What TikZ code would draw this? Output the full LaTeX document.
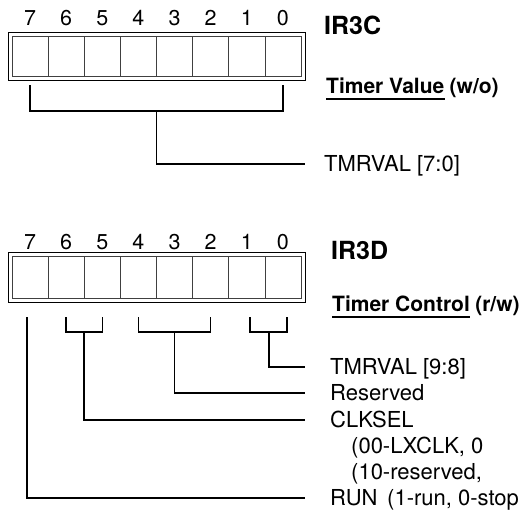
\documentclass[tikz,border=0pt]{standalone}
\usepackage{fontspec}
\setmainfont{TeX Gyre Heros}
\usetikzlibrary{positioning, calc}

\tikzset{
  bitcell/.style={draw=black!75, line width=0.6pt, minimum width=36.125pt, minimum height=40pt, inner sep=0pt, outer sep=0pt},
  bitnum/.style={font=\fontsize{21.5}{21.5}\selectfont, inner sep=0pt},
  regname/.style={font=\fontsize{25}{25}\selectfont\bfseries, anchor=west, inner sep=0pt},
  regtitle/.style={font=\fontsize{21}{21}\selectfont\bfseries, anchor=base west, inner sep=0pt},
  field/.style={font=\fontsize{22}{22}\selectfont, anchor=west, inner sep=0pt, text height=15.5pt, text depth=0pt},
  brace/.style={line width=1.6pt},
}

\begin{document}
\begin{tikzpicture}[x=1pt, y=-1pt]
\useasboundingbox (0,0) rectangle (522,512);

% IR3C
\draw[line width=0.8pt] (8,32) rectangle (305,80);
\foreach \b in {7,...,0} {
  \node[bitcell] (c\b) at ({12+36.125*(7.5-\b)},56) {};
  \node[bitnum] (cn\b) at ({12+36.125*(7.5-\b)},18) {\b};
}
\node[regname] (ir3c) at (324,25) {IR3C};
\node[regtitle] (tval) at (326,93) {Timer Value};
\node[regtitle] (wo) at ([xshift=5pt]tval.base east) {(w/o)};
\draw[line width=1.4pt] ([yshift=-6pt]tval.base west) -- ([yshift=-6pt]tval.base east);

\node[field] (tmrlo) at (324,164) {TMRVAL [7:0]};
\draw[brace] ([yshift=-9pt]c7.south) -- ++(0,26) -| ([yshift=-9pt]c0.south);
\draw[brace] ($(c7.south)!.5!(c0.south)+(0,35)$) |- ([xshift=-19pt]tmrlo.west);

% IR3D
\draw[line width=0.8pt] (8,252) rectangle (305,302);
\foreach \b in {7,...,0} {
  \node[bitcell, minimum height=42pt] (d\b) at ({12+36.125*(7.5-\b)},277) {};
  \node[bitnum] (dn\b) at ({12+36.125*(7.5-\b)},242) {\b};
}
\node[regname] (ir3d) at (331,250) {IR3D};
\node[regtitle] (tctl) at (332,311) {Timer Control};
\node[regtitle] (rw) at ([xshift=5pt]tctl.base east) {(r/w)};
\draw[line width=1.4pt] ([yshift=-6pt]tctl.base west) -- ([yshift=-6pt]tctl.base east);

\node[field] (tmrhi) at (330,367) {TMRVAL [9:8]};
\node[field] (resv) at (330,393) {Reserved};
\node[field] (clksel) at (330,420) {CLKSEL};
\node[field] (clkA) at (351,446) {(00-LXCLK, 0};
\node[field] (clkB) at (351,472) {(10-reserved,};
\node[field] (run) at (330,498) {RUN};
\node[field] (runnote) at (387,498) {(1-run, 0-stop};

\draw[brace] ([xshift=3pt,yshift=-19pt]d1.south) -- ++(0,15) -| ([xshift=4pt,yshift=-19pt]d0.south);
\draw[brace] ([yshift=-19pt]d4.south) -- ++(0,15) -| ([yshift=-19pt]d2.south);
\draw[brace] ([yshift=-19pt]d6.south) -- ++(0,15) -| ([yshift=-19pt]d5.south);
\draw[brace] ($(d1.south)!.5!(d0.south)+(4,34)$) |- ([xshift=-25pt]tmrhi.west);
\draw[brace] ($(d4.south)!.5!(d2.south)+(0,34)$) |- ([xshift=-25pt]resv.west);
\draw[brace] ($(d6.south)!.5!(d5.south)+(0,34)$) |- ([xshift=-25pt]clksel.west);
\draw[brace] ([xshift=-3pt,yshift=-19pt]d7.south) |- ([xshift=-25pt]run.west);
\end{tikzpicture}
\end{document}
